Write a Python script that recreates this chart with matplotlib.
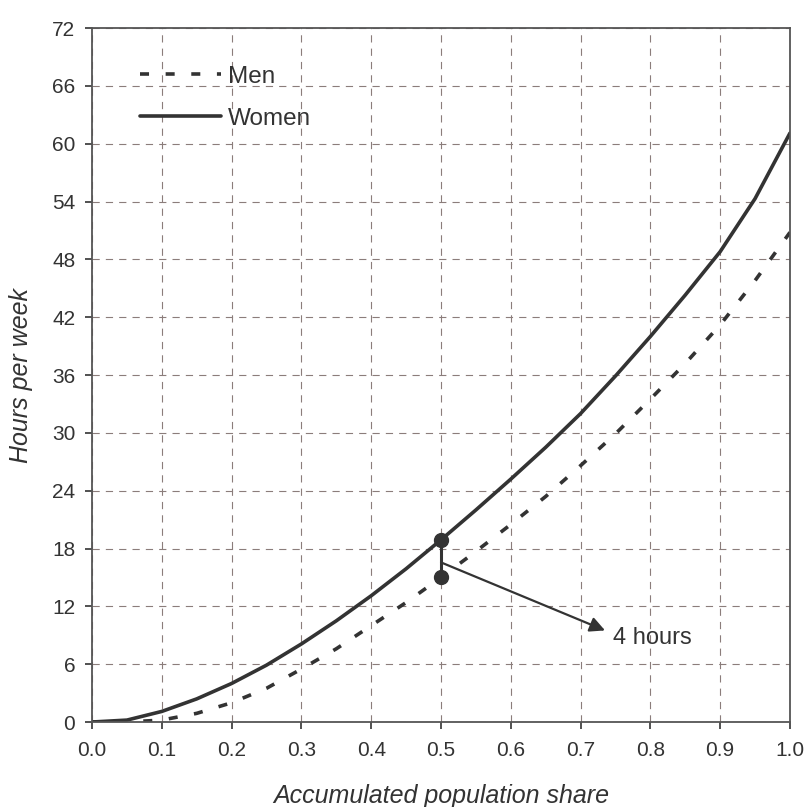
import matplotlib
matplotlib.use("Agg")
import matplotlib.pyplot as plt
import numpy as np

# accumulated population share and weekly hours
share = [0.0, 0.05, 0.1, 0.15, 0.2, 0.25, 0.3, 0.35, 0.4, 0.45, 0.5,
         0.55, 0.6, 0.65, 0.7, 0.75, 0.8, 0.85, 0.9, 0.95, 1.0]
women = [0.0, 0.2, 1.1, 2.4, 4.0, 5.9, 8.1, 10.5, 13.1, 15.9, 18.9,
         22.0, 25.2, 28.5, 32.0, 35.9, 40.0, 44.3, 48.8, 54.3, 61.1]
men = [0.0, 0.0, 0.2, 0.9, 2.0, 3.5, 5.5, 7.6, 10.0, 12.4, 15.0,
       17.7, 20.5, 23.4, 26.6, 29.9, 33.5, 37.2, 41.2, 45.8, 50.8]
x_ticks = np.arange(0, 1.01, 0.1)
y_ticks = np.arange(0, 73, 6)
gap_share = 0.5
gap_label = "4 hours"

plt.rcParams["font.family"] = ["Liberation Sans", "DejaVu Sans"]
dark = "#333333"
grid_col = "#8b7d7b"

fig = plt.figure(figsize=(8.08, 8.07), dpi=100)
ax = fig.add_axes([0.1139, 0.1053, 0.8638, 0.86])

ax.plot(share, men, color=dark, lw=2.6, linestyle=(0, (2.5, 4.6)), label="Men",
        dash_capstyle="butt")
ax.plot(share, women, color=dark, lw=2.6, label="Women", solid_capstyle="round",
        solid_joinstyle="round")

# gap marker at the median
i = share.index(gap_share)
ax.plot([gap_share, gap_share], [men[i], women[i]], color=dark, lw=2.2,
        marker="o", markersize=10)
mid = men[i] + 0.4 * (women[i] - men[i])
ax.annotate("", xy=(0.735, 9.5), xytext=(gap_share, mid),
            arrowprops=dict(arrowstyle="-|>,head_length=0.6,head_width=0.3", color=dark,
                            lw=1.6, mutation_scale=15, shrinkA=0, shrinkB=0))
ax.text(0.746, 8.7, gap_label, fontsize=17, color=dark, va="center", ha="left")

ax.set_xlim(0, 1)
ax.set_ylim(0, 72)
ax.set_xticks(x_ticks)
ax.set_xticklabels([f"{v:.1f}" for v in x_ticks])
ax.set_yticks(y_ticks)
ax.grid(True, color=grid_col, lw=0.8, linestyle=(0, (6.5, 5.5)))
ax.set_axisbelow(True)
ax.tick_params(axis="both", labelsize=15, colors=dark, length=5, width=1.2, direction="out")
ax.tick_params(axis="x", pad=9)
ax.tick_params(axis="y", pad=7)
for s in ax.spines.values():
    s.set_color("#555555")
    s.set_linewidth(1.3)

ax.set_xlabel("Accumulated population share", fontsize=18, style="italic", color=dark, labelpad=17)
ax.set_ylabel("Hours per week", fontsize=18, style="italic", color=dark, labelpad=14)

ax.legend(loc="upper left", bbox_to_anchor=(0.052, 0.963), frameon=False, fontsize=17.5,
          borderpad=0, handlelength=3.3, handletextpad=0.3, labelspacing=0.82,
          labelcolor=dark)

fig.savefig("out.png", dpi=100)
